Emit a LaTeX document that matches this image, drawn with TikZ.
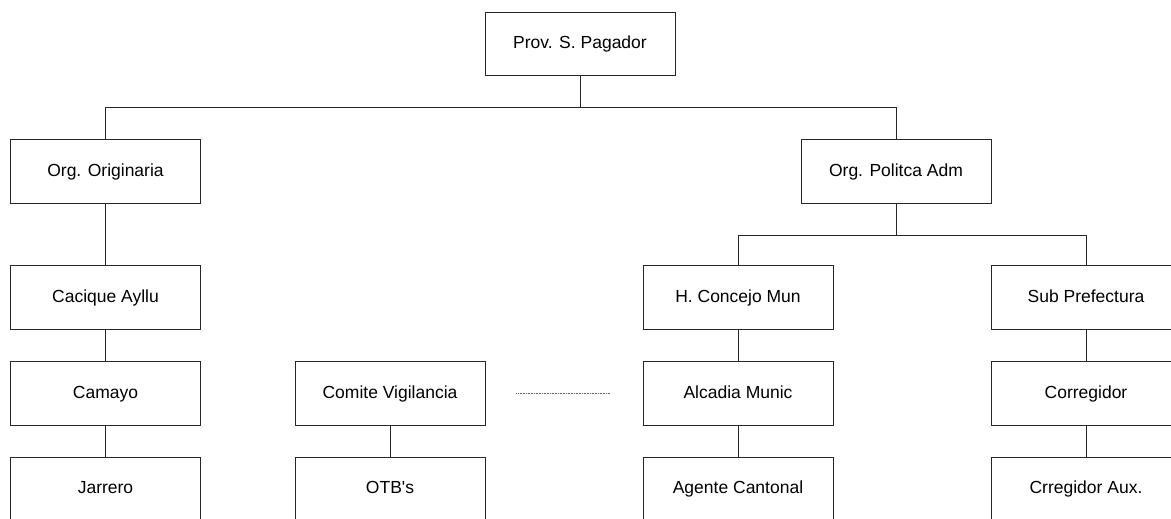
\documentclass[tikz,border=0pt]{standalone}
\usepackage{fontspec}
\setmainfont{Liberation Sans}[Ligatures=TeXOff]
\begin{document}
\begin{tikzpicture}[x=1pt,y=-1pt,
  unit/.style={draw=black!85,line width=0.9pt,rectangle,minimum width=190pt,minimum height=63.5pt,inner sep=0pt,text height=12.7pt,text depth=3.2pt,font=\fontsize{17.5}{21}\selectfont},
  link/.style={draw=black!85,line width=0.9pt},
  dotlink/.style={draw=black!60,line width=0.6pt,dash pattern=on 0.8pt off 0.8pt}]
\useasboundingbox[fill=white] (0,0) rectangle (1171,519);
\node[unit] (prov) at (580,44) {Prov. S. Pagador};
\node[unit] (orig) at (105.5,171.5) {Org. Originaria};
\node[unit] (pol) at (896,171.5) {Org. Politca Adm};
\node[unit] (cac) at (105.5,297.5) {Cacique Ayllu};
\node[unit] (hcm) at (738,297.5) {H. Concejo Mun};
\node[unit] (sub) at (1086,297.5) {Sub Prefectura};
\node[unit] (cam) at (105.5,393.5) {Camayo};
\node[unit] (com) at (390,393.5) {Comite Vigilancia};
\node[unit] (alc) at (738,393.5) {Alcadia Munic};
\node[unit] (cor) at (1086,393.5) {Corregidor};
\node[unit] (jar) at (105.5,489) {Jarrero};
\node[unit] (otb) at (390,489) {OTB's};
\node[unit] (age) at (738,489) {Agente Cantonal};
\node[unit] (crr) at (1086,489) {Crregidor Aux.};
% top level
\draw[link] (prov.south) -- ++(0,31) coordinate (j1);
\draw[link] (orig.north) |- (j1) -| (pol.north);
% political branch
\draw[link] (pol.south) -- ++(0,31.5) coordinate (j2);
\draw[link] (hcm.north) |- (j2) -| (sub.north);
% chains
\draw[link] (orig) -- (cac);
\draw[link] (cac) -- (cam);
\draw[link] (cam) -- (jar);
\draw[link] (hcm) -- (alc);
\draw[link] (alc) -- (age);
\draw[link] (sub) -- (cor);
\draw[link] (cor) -- (crr);
\draw[link] (com) -- (otb);
% dotted relation
\coordinate (d1) at ([xshift=31pt]com.east);
\coordinate (d2) at ([xshift=-33pt]alc.west);
\draw[dotlink] (d1) -- (d2);
\end{tikzpicture}
\end{document}
